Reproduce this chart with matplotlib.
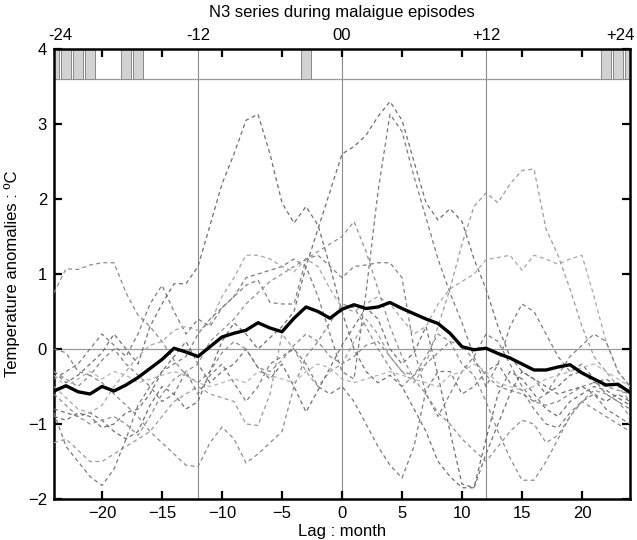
import numpy as np
import matplotlib
matplotlib.use("Agg")
import matplotlib.pyplot as plt
from matplotlib.patches import Rectangle
from matplotlib.transforms import ScaledTranslation

plt.rcParams['font.family'] = ['Liberation Sans', 'DejaVu Sans']

lags = list(range(-24, 25))

mean_n3 = [-0.56, -0.49, -0.57, -0.60, -0.50, -0.56, -0.48, -0.38, -0.26, -0.14, 0.01, -0.04, -0.10,
           0.03, 0.16, 0.21, 0.25, 0.35, 0.28, 0.23, 0.41, 0.56, 0.50, 0.41, 0.53,
           0.59, 0.54, 0.56, 0.62, 0.54, 0.47, 0.40, 0.34, 0.21, 0.03, -0.01, 0.01,
           -0.06, -0.12, -0.20, -0.28, -0.28, -0.24, -0.21, -0.32, -0.40, -0.48, -0.47, -0.58]

ep01 = [0.75, 1.07, 1.06, 1.12, 1.15, 1.15, 0.75, 0.45, 0.3, 0.1, -0.15, -0.35, -0.45,
        -0.3, -0.05, 0.1, 0.0, -0.25, -0.3, -0.15, 0.05, 0.2, 0.1, -0.1, -0.2,
        -0.1, 0.05, 0.1, -0.1, -0.3, -0.35, -0.2, -0.05, 0.1, 0.05, -0.15, -0.35,
        -0.5, -0.55, -0.6, -0.7, -0.75, -0.7, -0.6, -0.5, -0.45, -0.5, -0.55, -0.6]
ep02 = [-0.3, -0.45, -0.35, -0.2, -0.05, 0.2, 0.0, -0.2, 0.3, 0.6, 0.87, 0.87, 1.1,
        1.65, 2.2, 2.6, 3.05, 3.13, 2.6, 1.95, 1.68, 1.9, 1.65, 1.1, 0.5,
        0.0, -0.3, -0.45, -0.35, -0.5, -0.8, -1.1, -1.5, -1.7, -1.85, -1.85, -1.2,
        -0.6, -0.3, -0.4, -0.6, -0.8, -0.9, -0.7, -0.6, -0.5, -0.55, -0.65, -0.75]
ep03 = [-0.8, -0.85, -0.9, -0.85, -0.95, -1.1, -1.2, -1.1, -0.75, -0.5, -0.6, -0.8, -0.7,
        -0.3, 0.1, 0.35, 0.2, 0.0, 0.15, 0.3, 0.5, 1.1, 1.6, 2.1, 2.6,
        2.7, 2.85, 3.1, 3.3, 3.05, 2.5, 1.95, 1.72, 1.87, 1.7, 1.2, 0.8,
        0.3, -0.1, -0.3, -0.4, -0.5, -0.6, -0.55, -0.5, -0.6, -0.7, -0.6, -0.7]
ep04 = [-0.4, -0.3, -0.2, 0.0, 0.2, 0.05, -0.1, 0.2, 0.6, 0.85, 0.5, 0.2, 0.4,
        0.3, 0.55, 0.7, 0.95, 1.0, 1.05, 1.1, 1.2, 1.1, 0.7, 0.2, -0.3,
        -0.4, 0.75, 2.1, 3.13, 2.9, 2.3, 1.75, 1.2, 0.75, 0.35, -0.1, -0.5,
        -0.2, 0.3, 0.6, 0.5, 0.2, -0.1, -0.3, -0.2, -0.4, -0.6, -0.7, -0.8]
ep05 = [-1.25, -1.2, -1.35, -1.5, -1.5, -1.4, -1.3, -1.2, -1.1, -0.9, -0.7, -0.6, -0.5,
        -0.6, -0.65, -0.7, -1.0, -1.02, -0.6, 0.2, 0.0, -0.3, -0.5, -0.3, -0.2,
        0.1, 0.4, 0.2, -0.1, -0.3, -0.45, -0.2, 0.3, 0.8, 1.4, 1.9, 2.08,
        1.95, 2.2, 2.38, 2.4, 1.6, 1.25, 0.8, 0.3, -0.1, -0.3, -0.5, -0.7]
ep06 = [-0.85, -1.3, -1.5, -1.7, -1.82, -1.6, -1.2, -0.75, -0.5, -0.7, -0.6, -0.3, -0.6,
        -0.35, -0.2, -0.45, -0.7, -0.5, -0.2, -0.1, 0.0, -0.2, -0.5, -0.6, -0.5,
        -0.7, -1.0, -1.3, -1.55, -1.72, -1.3, -0.55, -0.3, -0.3, -0.6, -0.5, -0.3,
        -0.2, -0.45, -0.55, -0.8, -1.0, -1.05, -0.85, -0.7, -0.6, -0.8, -0.9, -1.0]
ep07 = [-0.3, -0.4, -0.5, -0.35, -0.45, -0.6, -0.75, -0.9, -1.1, -1.25, -1.4, -1.55, -1.57,
        -1.25, -1.04, -1.2, -1.52, -1.4, -1.25, -1.1, -0.5, -0.1, 0.1, 0.35, 0.6,
        0.55, 0.3, 0.0, -0.25, -0.5, -0.35, -0.1, 0.2, 0.1, -0.2, -0.35, -0.7,
        -1.1, -1.45, -1.75, -1.75, -1.5, -1.2, -0.9, -0.7, -0.8, -0.9, -1.0, -1.1]
ep08 = [-0.5, -0.65, -0.8, -0.85, -0.75, -0.5, -0.3, -0.1, 0.05, 0.1, 0.25, 0.3, 0.25,
        0.34, 0.7, 0.95, 1.25, 1.25, 1.2, 1.1, 1.03, 1.2, 1.1, 0.8, 0.55,
        0.5, 0.6, 0.7, 0.6, 0.4, 0.2, 0.3, 0.6, 0.8, 0.9, 1.0, 1.19,
        1.22, 1.25, 1.05, 1.25, 1.2, 1.13, 1.2, 1.25, 0.7, 0.1, -0.3, -0.5]
ep09 = [0.0, -0.05, -0.3, -0.35, -0.15, 0.0, -0.2, -0.35, -0.5, -0.3, -0.2, -0.1, 0.2,
        0.4, 0.55, 0.7, 0.85, 0.92, 0.62, 0.6, 0.6, 1.2, 1.25, 1.1, 0.95,
        1.1, 1.12, 1.15, 1.15, 0.95, 0.0, -0.6, -0.9, -0.6, -0.3, -0.1, 0.2,
        0.1, -0.2, -0.5, -0.7, -0.6, -0.35, -0.1, 0.05, 0.2, 0.1, -0.3, -0.5]
ep10 = [-0.9, -0.95, -0.85, -0.9, -1.05, -1.0, -0.85, -0.8, -0.6, -0.3, -0.1, 0.1, -0.2,
        -0.45, -0.3, -0.2, 0.0, -0.25, -0.4, -0.2, -0.5, -0.84, -0.55, -0.25, 0.05,
        0.3, 0.55, 0.4, 0.0, -0.2, -0.05, 0.3, -0.35, -1.1, -1.8, -1.85, -1.4,
        -1.0, -0.6, -0.3, -0.4, -0.6, -0.5, -0.35, -0.3, -0.45, -0.4, -0.5, -0.55]
ep11 = [-0.35, -0.5, -0.4, -0.3, -0.4, -0.3, -0.35, -0.45, -0.4, -0.35, -0.3, -0.35, -0.45,
        -0.5, -0.45, -0.4, -0.45, -0.3, -0.35, -0.4, -0.45, -0.3, -0.2, -0.25, -0.4,
        -0.45, -0.4, -0.35, -0.3, -0.35, -0.4, -0.45, -0.5, -0.35, -0.3, -0.2, -0.3,
        -0.45, -0.5, -0.55, -0.5, -0.4, -0.35, -0.3, -0.25, -0.2, -0.3, -0.4, -0.5]
ep12 = [-0.6, -0.75, -0.9, -1.0, -0.95, -0.9, -1.0, -1.15, -0.9, -0.6, -0.4, -0.3, -0.2,
        0.1, 0.25, 0.4, 0.6, 0.75, 0.9, 1.0, 1.1, 1.2, 1.3, 1.4, 1.5,
        1.7, 1.3, 0.8, 0.3, -0.1, -0.4, -0.6, -0.85, -1.0, -1.2, -1.35, -1.5,
        -1.3, -1.1, -0.95, -1.0, -1.25, -1.15, -0.9, -0.7, -0.55, -0.6, -0.7, -0.9]

episode_months = [-24, -23, -22, -21, -18, -17, -3, 22, 23, 24]

top_ticks = [-24, -12, 0, 12, 24]
top_labels = ['-24', '-12', '00', '+12', '+24']

series = [ep01, ep02, ep03, ep04, ep05, ep06, ep07, ep08, ep09, ep10, ep11, ep12]
grays = ['#8a8a8a', '#6e6e6e', '#6e6e6e', '#7a7a7a', '#9a9a9a', '#7a7a7a',
         '#8a8a8a', '#a5a5a5', '#808080', '#707070', '#b5b5b5', '#909090']

fig = plt.figure(figsize=(6.37, 5.40), dpi=100)
ax = fig.add_axes([54/637, 41/540, 576/637, 450/540])

# reference lines
for xv in (-12, 0, 12):
    ax.axvline(xv, color='#8c8c8c', lw=0.8, zorder=1)
ax.axhline(0, color='#9a9a9a', lw=0.9, zorder=1)
ax.axhline(3.6, color='#9a9a9a', lw=0.9, zorder=1)

# episode strip
for m in episode_months:
    ax.add_patch(Rectangle((m - 0.4, 3.6), 0.8, 0.4, facecolor='#d2d2d2',
                           edgecolor='#8a8a8a', lw=0.7, zorder=2, clip_on=True))

for s, c in zip(series, grays):
    ax.plot(lags, s, color=c, lw=0.9, linestyle=(0, (3.2, 2.6)), zorder=3)

ax.plot(lags, mean_n3, color='black', lw=2.4, zorder=5)

ax.set_xlim(-24, 24)
ax.set_ylim(-2, 4)
ax.set_xticks([-20, -15, -10, -5, 0, 5, 10, 15, 20])
ax.set_yticks([-2, -1, 0, 1, 2, 3, 4])
ax.tick_params(axis='both', direction='in', length=6, width=1.6, labelsize=12,
               top=True, right=True, pad=5)
for sp in ax.spines.values():
    sp.set_linewidth(1.8)

sec = ax.secondary_xaxis('top')
sec.set_xticks(top_ticks, labels=top_labels)
sec.tick_params(length=0, labelsize=12, pad=4)
sec.spines['top'].set_visible(False)
lbls = sec.get_xticklabels()
lbls[0].set_transform(lbls[0].get_transform() + ScaledTranslation(6/100, 0, fig.dpi_scale_trans))
lbls[-1].set_transform(lbls[-1].get_transform() + ScaledTranslation(-10/100, 0, fig.dpi_scale_trans))

ax.set_xlabel('Lag : month', fontsize=12, labelpad=2)
ax.set_ylabel('Temperature anomalies : ºC', fontsize=12, labelpad=6)
fig.text(342/637, 1 - 12/540, 'N3 series during malaigue episodes', ha='center',
         va='center', fontsize=12)

fig.savefig('out.png', dpi=100)
